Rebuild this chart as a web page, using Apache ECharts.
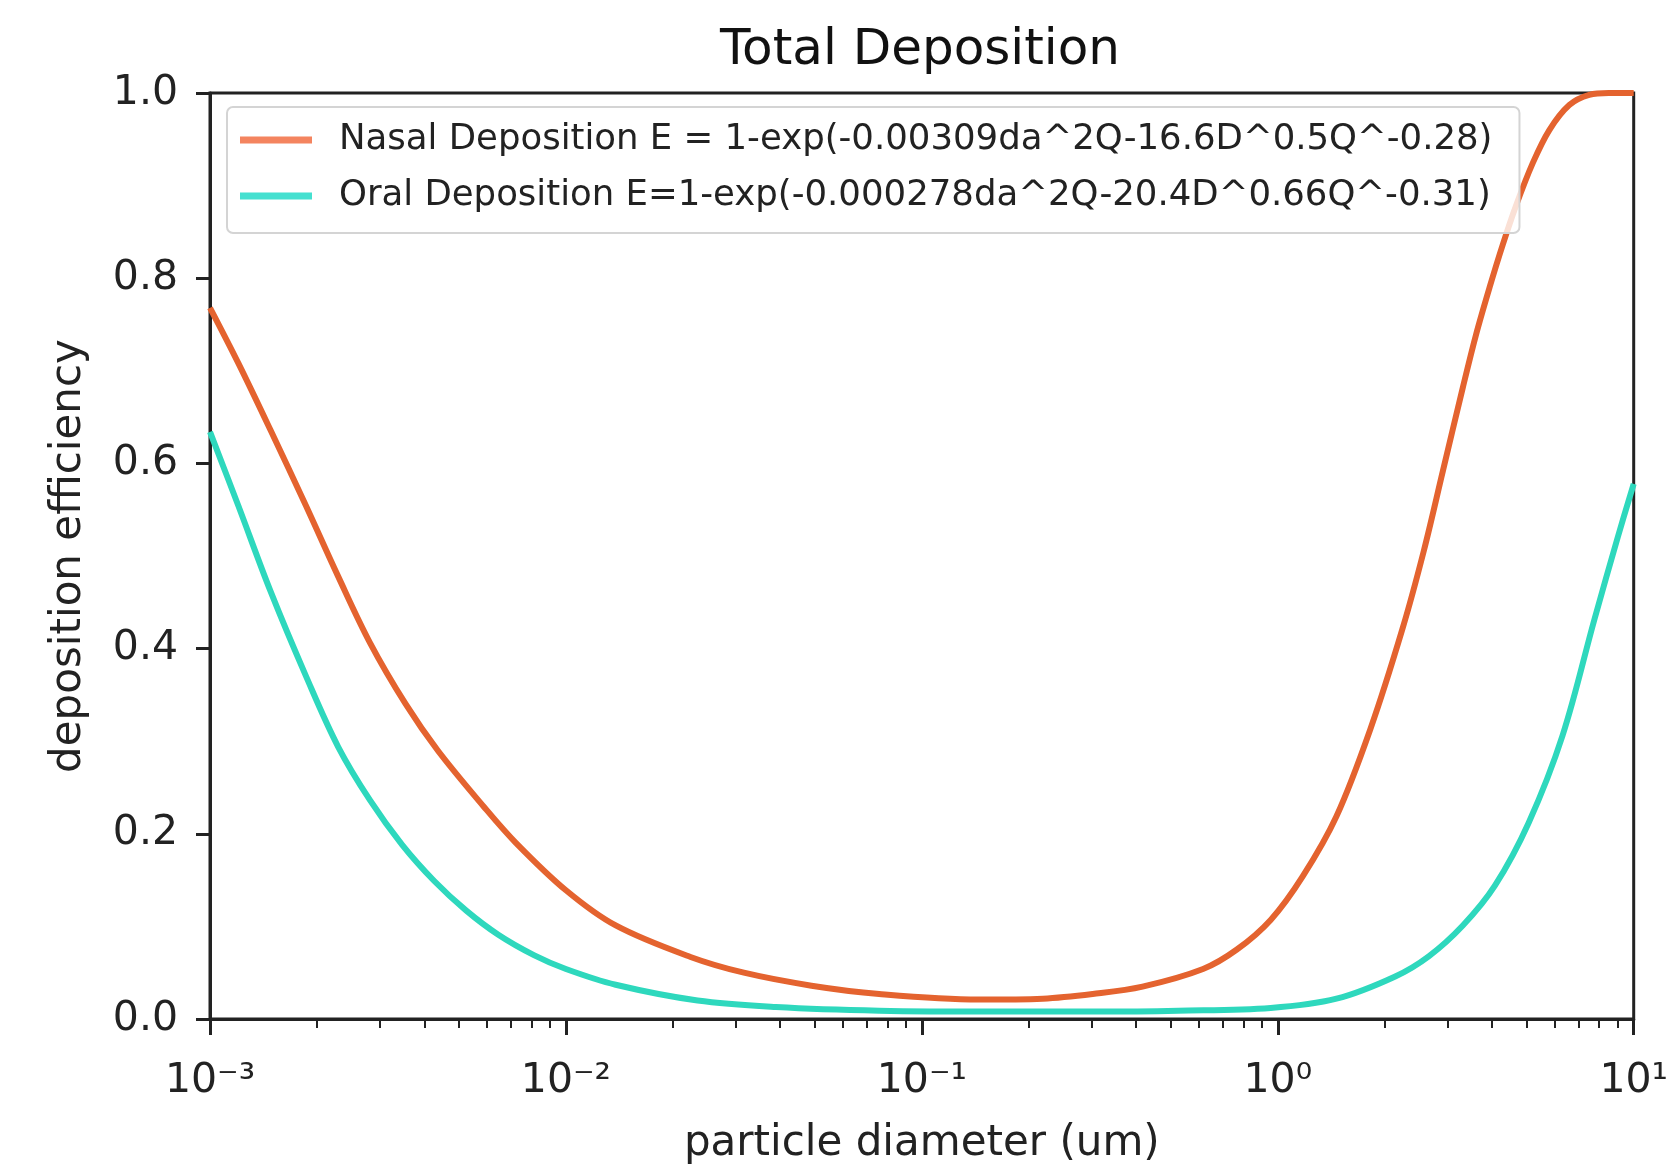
<!DOCTYPE html>
<html>
<head>
    <meta charset="UTF-8">
    <title>Total Deposition</title>
    <script type="text/javascript" src="https://cdn.jsdelivr.net/npm/echarts@6/dist/echarts.min.js"></script>
</head>
<body style="height: 1170px; width: 1671px; margin: 0; background: #fff">
<div id="container" style="height: 100%; width: 100%"></div>
<script type="text/javascript">
    // values (diameter in um, efficiency 0..1)
    const nasalDiameter = [0.001, 0.001202, 0.001479, 0.001862, 0.002291, 0.002818, 0.003548, 0.004365,
        0.005888, 0.007244, 0.01, 0.0138, 0.02239, 0.03162, 0.04898, 0.07586, 0.1445, 0.2188, 0.302,
        0.4169, 0.6166, 0.7674, 0.955, 1.175, 1.462, 1.82, 2.239, 2.57, 2.911, 3.311, 3.606, 3.936,
        4.285, 4.667, 5.2, 5.794, 6.592, 7.499, 8.511, 10];
    const nasalEfficiency = [0.768, 0.708, 0.636, 0.554, 0.478, 0.406, 0.340, 0.290,
        0.229, 0.190, 0.139, 0.101, 0.067, 0.050, 0.036, 0.027, 0.021, 0.022, 0.027,
        0.035, 0.054, 0.075, 0.107, 0.154, 0.219, 0.313, 0.421, 0.505, 0.592, 0.682, 0.739, 0.790,
        0.836, 0.878, 0.924, 0.960, 0.987, 0.998, 1.0, 1.0];

    const oralDiameter = [0.001, 0.001202, 0.001479, 0.001862, 0.002291, 0.002818, 0.003467, 0.004266,
        0.005248, 0.006457, 0.008128, 0.01, 0.0138, 0.02344, 0.0389, 0.07586, 0.1585, 0.3162, 0.5248,
        0.955, 1.462, 2.138, 2.661, 3.311, 4.074, 5.07, 6.31, 7.762, 9.016, 10];
    const oralEfficiency = [0.634, 0.554, 0.462, 0.370, 0.294, 0.236, 0.188, 0.149,
        0.117, 0.091, 0.069, 0.054, 0.037, 0.020, 0.013, 0.009, 0.008, 0.008, 0.009,
        0.012, 0.022, 0.046, 0.068, 0.101, 0.144, 0.212, 0.306, 0.432, 0.520, 0.578];

    const xTickLabels = ['10⁻³', '10⁻²', '10⁻¹', '10⁰', '10¹'];
    const seriesNames = [
        'Nasal Deposition E = 1-exp(-0.00309da^2Q-16.6D^0.5Q^-0.28)',
        'Oral Deposition E=1-exp(-0.000278da^2Q-20.4D^0.66Q^-0.31)'
    ];

    const font = 'DejaVu Sans';
    const axisColor = '#222';

    // minor tick positions in log10 space (2..9 of every decade)
    const minorTicks = [];
    for (let k = -3; k < 1; k++) {
        for (let m = 2; m <= 9; m++) minorTicks.push(k + Math.log10(m));
    }

    const dom = document.getElementById("container");
    const myChart = echarts.init(dom);
    const option = {
        animation: false,
        title: {
            text: 'Total Deposition',
            left: 715,
            top: 21,
            textStyle: {fontFamily: font, fontSize: 50, fontWeight: 'normal', color: '#111'}
        },
        grid: {
            left: 210, right: 33, top: 93, bottom: 150,
            show: true, borderColor: axisColor, borderWidth: 3
        },
        legend: {
            orient: 'vertical',
            left: 227, top: 107,
            padding: [15, 27, 19, 13],
            itemGap: 20,
            itemWidth: 72,
            itemHeight: 7,
            backgroundColor: 'rgba(255,255,255,0.8)',
            borderColor: '#d4d4d4',
            borderWidth: 2,
            borderRadius: 6,
            textStyle: {fontFamily: font, fontSize: 35.5, lineHeight: 35, color: '#222', padding: [0, 0, 0, 22]},
            data: [
                {name: seriesNames[0], icon: 'rect', itemStyle: {color: '#F4845F'}},
                {name: seriesNames[1], icon: 'rect', itemStyle: {color: '#45E0D0'}}
            ]
        },
        xAxis: [{
            type: 'log',
            logBase: 10,
            min: 0.001,
            max: 10,
            splitNumber: 4,
            name: 'particle diameter (um)',
            nameLocation: 'middle',
            nameGap: 104,
            nameTextStyle: {fontFamily: font, fontSize: 42, color: '#222'},
            axisLine: {onZero: false, lineStyle: {color: axisColor, width: 3}},
            axisTick: {length: 16, lineStyle: {color: axisColor, width: 3}},
            axisLabel: {
                fontFamily: font, fontSize: 41, color: '#222', margin: 42,
                formatter: function (v) {
                    return xTickLabels[Math.round(Math.log10(v)) + 3];
                }
            },
            splitLine: {show: false}
        }, {
            type: 'value',
            min: -3,
            max: 1,
            position: 'bottom',
            axisLine: {show: false, onZero: false},
            axisLabel: {show: false},
            axisTick: {show: true, length: 9, customValues: minorTicks, lineStyle: {color: axisColor, width: 2}},
            splitLine: {show: false}
        }],
        yAxis: {
            type: 'value',
            min: 0,
            max: 1,
            interval: 0.2,
            name: 'deposition efficiency',
            nameLocation: 'middle',
            nameGap: 120,
            nameTextStyle: {fontFamily: font, fontSize: 42, color: '#222'},
            axisLine: {show: true, onZero: false, lineStyle: {color: axisColor, width: 3}},
            axisTick: {show: true, length: 14, lineStyle: {color: axisColor, width: 3}},
            axisLabel: {
                fontFamily: font, fontSize: 41, color: '#222', margin: 32,
                formatter: function (v) { return v.toFixed(1); }
            },
            splitLine: {show: false}
        },
        series: [{
            name: seriesNames[0],
            type: 'line',
            symbol: 'none',
            smooth: 0.35,
            color: '#E4632F',
            lineStyle: {width: 6, color: '#E4632F'},
            data: nasalDiameter.map((d, i) => [d, nasalEfficiency[i]])
        }, {
            name: seriesNames[1],
            type: 'line',
            symbol: 'none',
            smooth: 0.35,
            color: '#2ED8BD',
            lineStyle: {width: 6, color: '#2ED8BD'},
            data: oralDiameter.map((d, i) => [d, oralEfficiency[i]])
        }]
    };

    myChart.setOption(option, true);
</script>
</body>
</html>
